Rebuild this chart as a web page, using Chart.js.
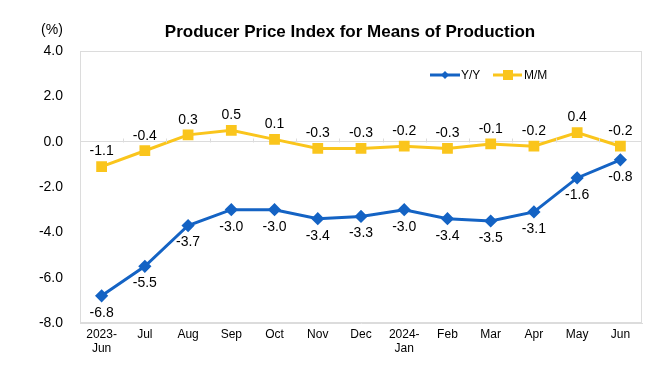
<!DOCTYPE html>
<html>
<head>
<meta charset="utf-8">
<script src="https://cdn.jsdelivr.net/npm/chart.js@4"></script>
<style>
  html, body { margin: 0; padding: 0; background: #fff; }
  #wrap { width: 660px; height: 382px; }
</style>
</head>
<body>
<div id="wrap"><canvas id="ppiChart" width="660" height="382"></canvas></div>
<script>
// Data
const months = [['2023-', 'Jun'], 'Jul', 'Aug', 'Sep', 'Oct', 'Nov', 'Dec', ['2024-', 'Jan'], 'Feb', 'Mar', 'Apr', 'May', 'Jun'];
const yoyValues = [-6.8, -5.5, -3.7, -3.0, -3.0, -3.4, -3.3, -3.0, -3.4, -3.5, -3.1, -1.6, -0.8];
const momValues = [-1.1, -0.4, 0.3, 0.5, 0.1, -0.3, -0.3, -0.2, -0.3, -0.1, -0.2, 0.4, -0.2];
const yTicks = [-8, -6, -4, -2, 0, 2, 4];

const BLUE = '#1463c4';
const YELLOW = '#fac51c';
const GRID = '#dcdcdc';
const FONT = 'Arial, "Liberation Sans", sans-serif';
const NARROW = '"Liberation Sans Narrow", "Arial Narrow", Arial, sans-serif';

// Title, unit, frame, zero-line ticks, legend and value labels
const decorPlugin = {
    id: 'decor',
    afterDraw(chart) {
        const ctx = chart.ctx;
        const area = chart.chartArea;
        const x = chart.scales.x;
        const y = chart.scales.y;
        ctx.save();

        // frame
        ctx.strokeStyle = GRID;
        ctx.lineWidth = 1;
        ctx.strokeRect(area.left + 0.5, area.top + 0.5, area.right - area.left - 1, area.bottom - area.top - 1);

        // small ticks on the zero line between categories
        const y0 = Math.round(y.getPixelForValue(0)) + 0.5;
        ctx.beginPath();
        for (let i = 1; i < months.length; i++) {
            const bx = Math.round((x.getPixelForValue(i - 1) + x.getPixelForValue(i)) / 2) + 0.5;
            ctx.moveTo(bx, y0);
            ctx.lineTo(bx, y0 - 4);
        }
        ctx.stroke();

        // title and unit
        ctx.fillStyle = '#000';
        ctx.font = 'bold 17px ' + FONT;
        ctx.textAlign = 'center';
        ctx.textBaseline = 'middle';
        ctx.fillText('Producer Price Index for Means of Production', 350, 32);
        ctx.font = '14px ' + FONT;
        ctx.fillText('(%)', 52, 30);

        // value labels
        ctx.font = '14px ' + FONT;
        chart.getDatasetMeta(0).data.forEach((pt, i) => {
            ctx.fillText(yoyValues[i].toFixed(1), pt.x, pt.y + 17);
        });
        chart.getDatasetMeta(1).data.forEach((pt, i) => {
            ctx.fillText(momValues[i].toFixed(1), pt.x, pt.y - 15);
        });

        // legend
        const ly = 75;
        ctx.lineWidth = 3;
        ctx.strokeStyle = BLUE;
        ctx.beginPath(); ctx.moveTo(430, ly); ctx.lineTo(460, ly); ctx.stroke();
        ctx.fillStyle = BLUE;
        ctx.beginPath();
        ctx.moveTo(445, ly - 4); ctx.lineTo(449, ly); ctx.lineTo(445, ly + 4); ctx.lineTo(441, ly);
        ctx.closePath(); ctx.fill();
        ctx.strokeStyle = YELLOW;
        ctx.beginPath(); ctx.moveTo(493, ly); ctx.lineTo(522, ly); ctx.stroke();
        ctx.fillStyle = YELLOW;
        ctx.fillRect(503, ly - 5, 10, 10);
        ctx.fillStyle = '#000';
        ctx.font = '12px ' + NARROW;
        ctx.textAlign = 'left';
        ctx.fillText('Y/Y', 461, ly + 1);
        ctx.fillText('M/M', 524, ly + 1);

        ctx.restore();
    }
};

new Chart(document.getElementById('ppiChart'), {
    type: 'line',
    data: {
        labels: months,
        datasets: [{
            label: 'Y/Y',
            data: yoyValues,
            borderColor: BLUE,
            backgroundColor: BLUE,
            borderWidth: 3,
            pointStyle: 'rectRot',
            pointRadius: 4.5,
            pointHoverRadius: 4.5,
            tension: 0
        }, {
            label: 'M/M',
            data: momValues,
            borderColor: YELLOW,
            backgroundColor: YELLOW,
            borderWidth: 3,
            pointStyle: 'rect',
            pointRadius: 5.5,
            pointHoverRadius: 5.5,
            tension: 0
        }]
    },
    options: {
        responsive: false,
        animation: false,
        layout: { padding: { left: 0, right: 18, top: 51, bottom: 0 } },
        plugins: {
            legend: { display: false },
            title: { display: false },
            tooltip: { enabled: false }
        },
        scales: {
            x: {
                offset: true,
                grid: { display: false, drawTicks: false },
                border: { color: GRID },
                ticks: {
                    color: '#000',
                    font: { family: NARROW, size: 12 },
                    maxRotation: 0,
                    autoSkip: false,
                    padding: 4
                },
                afterFit: s => { s.height = 59; }
            },
            y: {
                min: -8,
                max: 4,
                afterBuildTicks: s => { s.ticks = yTicks.map(v => ({ value: v })); },
                grid: {
                    color: c => c.tick && c.tick.value === 0 ? GRID : 'rgba(0,0,0,0)',
                    drawTicks: false
                },
                border: { color: GRID },
                ticks: {
                    color: '#000',
                    font: { family: FONT, size: 14 },
                    padding: 17,
                    callback: v => Number(v).toFixed(1)
                },
                afterFit: s => { s.width = 80; }
            }
        }
    },
    plugins: [decorPlugin]
});
</script>
</body>
</html>
